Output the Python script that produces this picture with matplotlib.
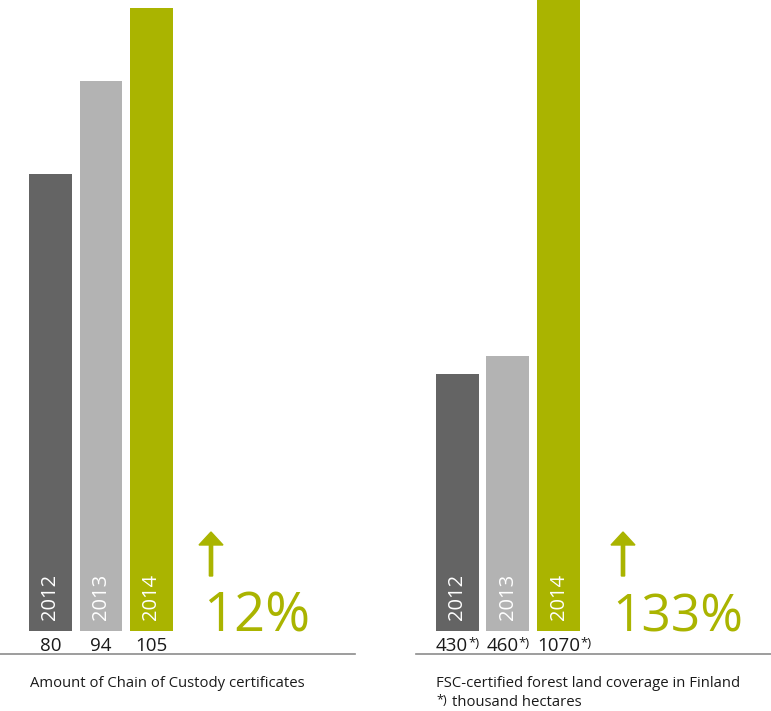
import matplotlib
matplotlib.use("Agg")
import matplotlib.pyplot as plt
from matplotlib.lines import Line2D
import matplotlib.patches as mpatches
import matplotlib.transforms as mtransforms

# ---------------- data ----------------
years = ["2012", "2013", "2014"]
coc_values = [80, 94, 105]
coc_labels = ["80", "94", "105"]
coc_change = "12%"
coc_caption = "Amount of Chain of Custody certificates"

fsc_values = [430, 460, 1070]
fsc_labels = ["430", "460", "1070"]
fsc_change = "133%"
fsc_caption = "FSC-certified forest land coverage in Finland"
fsc_note = "thousand hectares"
note_mark = "*)"

bar_colors = ["#646464", "#b3b3b3", "#aab400"]
green = "#aab400"
text_color = "#1a1a1a"

W, H = 771, 711
DPI = 100
plt.rcParams['font.family'] = ['Open Sans', 'DejaVu Sans']
fig = plt.figure(figsize=(W / DPI, H / DPI), dpi=DPI)
fig.patch.set_facecolor("white")


def fx(px):
    return px / W


def fy(py):
    return (H - py) / H


renderer = fig.canvas.get_renderer()


def fit_size(text, target_px, base=12, **kw):
    t = fig.text(0, 0, text, fontsize=base, **kw)
    w = t.get_window_extent(renderer).width
    t.remove()
    return base * target_px / w


capsize = fit_size(coc_caption, 275, base=11)


def panel(x0, x1, xlim, ylim, values, labels, sup, change, change_x, arrow_x,
          label_align):
    ax = fig.add_axes([fx(x0), fy(631), fx(x1) - fx(x0), fy(0) - fy(631)])
    ax.set_xlim(*xlim)
    ax.set_ylim(*ylim)
    ax.axis("off")
    pos = list(range(len(values)))
    ax.bar(pos, values, width=0.85, color=bar_colors, edgecolor="none", zorder=2)
    trans = mtransforms.blended_transform_factory(ax.transData, fig.transFigure)
    # year labels inside bars
    for i, y in enumerate(years):
        ax.text(i, fy(620), y, transform=trans, rotation=90, ha="center",
                va="bottom", color="white", fontsize=14.5, zorder=3)
    # value labels
    for i, lab in enumerate(labels):
        if label_align == "center":
            ax.text(i, fy(651), lab, transform=trans, ha="center",
                    va="baseline", fontsize=13.5, color=text_color)
        else:
            t = ax.text(i - 0.425, fy(651), lab, transform=trans, ha="left",
                        va="baseline", fontsize=13.5, color=text_color)
            ax.annotate(sup, xy=(1.0, 0.98), xycoords=t, xytext=(0.2, 0),
                        textcoords="offset points", ha="left", va="top",
                        fontsize=9.5, color=text_color)
    # arrow
    fig.add_artist(mpatches.FancyArrow(
        fx(arrow_x), fy(576), 0, fy(532) - fy(576), width=3 / H,
        head_width=24 / W, head_length=13 / H, length_includes_head=True,
        color=green, transform=fig.transFigure))
    # percentage
    size = fit_size(change, change_x[1] - change_x[0], base=40)
    fig.text(fx(change_x[0]), fy(632), change, fontsize=size,
             color=green, ha="left", va="baseline")
    # rule
    fig.add_artist(Line2D([fx(x0), fx(x1)], [fy(654), fy(654)],
                          color="#8c8c8c", lw=1.2))
    return ax


panel(0, 355, (-1.0, 6.03), (11, 106.2), coc_values, coc_labels, "",
      coc_change, (203, 310), 211, "center")
panel(416, 771, (-0.81, 6.19), (0, 1055), fsc_values, fsc_labels, note_mark,
      fsc_change, (612, 743), 623, "left")

# captions
fig.text(fx(30), fy(687), coc_caption, fontsize=capsize, color=text_color,
         ha="left", va="baseline")
fig.text(fx(436), fy(687), fsc_caption, fontsize=capsize, color=text_color,
         ha="left", va="baseline")
fig.text(fx(436), fy(704), note_mark, fontsize=capsize * 0.85,
         color=text_color, ha="left", va="baseline")
fig.text(fx(452), fy(706), fsc_note, fontsize=capsize, color=text_color,
         ha="left", va="baseline")

fig.savefig("out.png", dpi=DPI, facecolor="white")
